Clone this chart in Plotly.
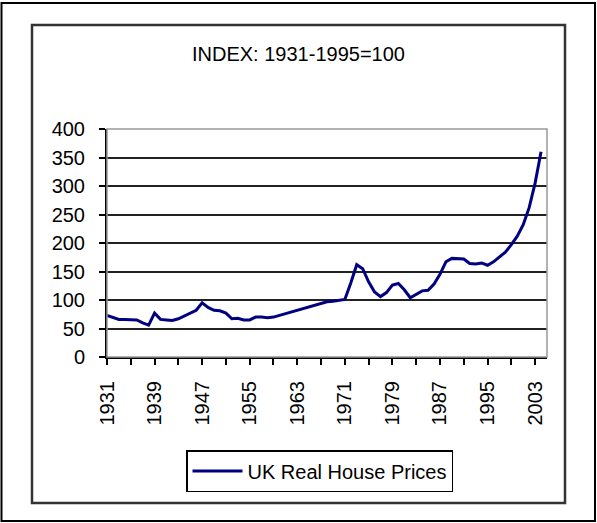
import plotly.graph_objects as go

years = list(range(1931, 2005))
prices = [73, 69, 66, 66, 66, 65, 60, 56, 77, 66,
          65, 64, 67, 72, 76, 82, 95, 87, 82, 81,
          77, 67, 68, 65, 65, 70, 70, 69, 70, 73,
          76, 79, 82, 85, 88, 91, 94, 97, 98, 99,
          101, 130, 162, 155, 132, 114, 106, 113, 126, 129,
          118, 104, 110, 116, 117, 128, 145, 167, 173, 173,
          172, 164, 163, 165, 161, 167, 175, 184, 197, 212,
          232, 262, 305, 360]
y_ticks = [0, 50, 100, 150, 200, 250, 300, 350, 400]
series_name = "UK Real House Prices"
subtitle = "INDEX: 1931-1995=100"

FONT = "Liberation Sans, Arial, sans-serif"

# plot area in pixels
W, H = 597, 523
L, R, T, B = 107, 547, 129, 357
pw, ph = R - L, B - T


def px(x):
    return (x - L) / pw


def py(y):
    return (B - y) / ph


fig = go.Figure()
fig.add_trace(go.Scatter(
    x=years, y=prices, mode="lines", name=series_name,
    line=dict(color="#000080", width=3),
))

shapes = [
    # outer frame
    dict(type="rect", xref="paper", yref="paper", x0=px(1.5), x1=px(595), y0=py(3), y1=py(521),
         line=dict(color="black", width=2), layer="below"),
    # inner chart box
    dict(type="rect", xref="paper", yref="paper", x0=px(32), x1=px(565), y0=py(25), y1=py(503),
         line=dict(color="#333333", width=2.5), layer="below"),
    # plot area border (gray)
    dict(type="rect", xref="paper", yref="paper", x0=0, x1=1, y0=0, y1=1,
         line=dict(color="#999999", width=1.5), layer="above"),
]

fig.update_layout(
    width=W, height=H,
    margin=dict(l=L, r=W - R, t=T, b=H - B, pad=0),
    paper_bgcolor="white", plot_bgcolor="white",
    font=dict(family=FONT, size=20, color="black"),
    showlegend=True,
    legend=dict(
        x=px(186), y=py(450), xanchor="left", yanchor="top",
        bordercolor="black", borderwidth=1.5, bgcolor="white",
        font=dict(family=FONT, size=20, color="black"),
        itemwidth=50, tracegroupgap=0,
    ),
    shapes=shapes,
    annotations=[dict(
        text=subtitle, xref="paper", yref="paper", x=px(298), y=py(54),
        xanchor="center", yanchor="middle", showarrow=False,
        font=dict(family=FONT, size=20, color="black"),
    )],
)

fig.update_xaxes(
    range=[1931, 2005], tick0=1931, dtick=8, tickmode="linear",
    tickangle=-90, ticks="outside", ticklen=6, tickwidth=1.5, tickcolor="black",
    showline=True, linecolor="black", linewidth=2, showgrid=False, zeroline=False,
    ticklabelstandoff=8,
    minor=dict(tick0=1931, dtick=4, ticks="outside", ticklen=6, tickwidth=1.5,
               tickcolor="black", showgrid=False),
    tickfont=dict(family=FONT, size=20, color="black"),
)
fig.update_yaxes(
    range=[0, 400], tickvals=y_ticks,
    ticks="outside", ticklen=6, tickwidth=1.5, tickcolor="black",
    showline=True, linecolor="black", linewidth=2,
    showgrid=True, gridcolor="#222222", gridwidth=1.5, zeroline=False,
    ticklabelstandoff=10,
    tickfont=dict(family=FONT, size=20, color="black"),
)

fig.write_html(
    "out.html",
    config={"displayModeBar": False},
    post_script="document.body.style.margin='0';document.body.style.overflow='hidden';",
)
